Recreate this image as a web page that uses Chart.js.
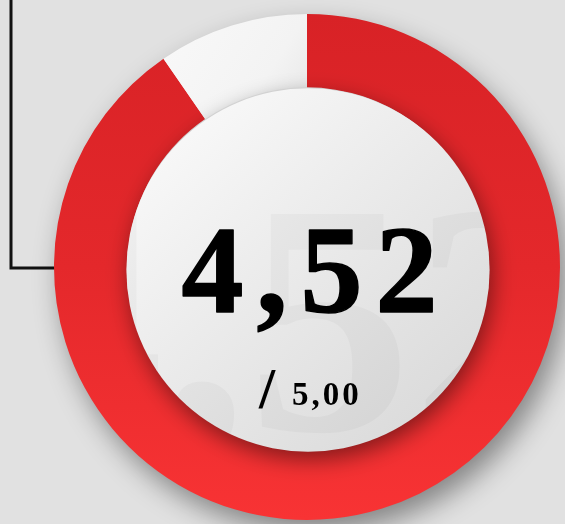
<!DOCTYPE html>
<html><head><meta charset="utf-8">
<script src="https://cdn.jsdelivr.net/npm/chart.js@4"></script>
<style>html,body{margin:0;padding:0;background:#e1e1e1;overflow:hidden}#wrap{width:565px;height:524px;position:relative}</style>
</head><body><div id="wrap"><canvas id="c" width="565" height="524"></canvas></div>
<script>
// ---- data ----
const categories = ['Note', 'Reste'];
const scoreValues = [4.52, 0.48];
const maxScore = [5.00];
const scoreLabel = ['4,52'];
const maxLabel = ['5,00'];

const SERIF = '"Liberation Serif", "DejaVu Serif", serif';

function redFill(chart) {
  const a = chart.chartArea;
  if (!a) return '#e52a2c';
  const g = chart.ctx.createLinearGradient(0, a.top, 0, a.bottom);
  g.addColorStop(0, '#d82226');
  g.addColorStop(0.5, '#e4282b');
  g.addColorStop(1, '#f83334');
  return g;
}
function whiteFill(chart) {
  const a = chart.chartArea;
  if (!a) return '#f4f4f4';
  const g = chart.ctx.createLinearGradient(a.left + 60, a.top, a.left + a.width / 2, a.top + a.height / 4);
  g.addColorStop(0, '#fbfbfb');
  g.addColorStop(0.7, '#f3f3f3');
  g.addColorStop(1, '#e4e4e4');
  return g;
}
function sliceFill(ctx) {
  return ctx.dataIndex === 0 ? redFill(ctx.chart) : whiteFill(ctx.chart);
}

const decor = {
  id: 'decor',
  beforeDraw(chart) {
    const c = chart.ctx;
    c.save();
    c.fillStyle = '#e1e1e1';
    c.fillRect(0, 0, chart.width, chart.height);
    c.strokeStyle = '#111';
    c.lineWidth = 3;
    c.beginPath();
    c.moveTo(11, 0); c.lineTo(11, 268); c.lineTo(70, 268);
    c.stroke();
    c.restore();
  },
  beforeDatasetsDraw(chart) {
    const arc = chart.getDatasetMeta(0).data[0];
    if (!arc) return;
    const c = chart.ctx;
    c.save();
    c.shadowColor = 'rgba(0,0,0,0.42)';
    c.shadowBlur = 28;
    c.shadowOffsetX = 7;
    c.shadowOffsetY = 13;
    c.fillStyle = '#e6e6e6';
    c.beginPath();
    c.arc(arc.x, arc.y, arc.outerRadius - 1, 0, Math.PI * 2);
    c.fill();
    c.restore();
  },
  afterDatasetsDraw(chart) {
    const arc = chart.getDatasetMeta(0).data[0];
    if (!arc) return;
    const c = chart.ctx;
    const cx = arc.x + 1, cy = arc.y + 3, r = arc.innerRadius + 2;
    c.save();
    c.shadowColor = 'rgba(0,0,0,0.45)';
    c.shadowBlur = 22;
    c.shadowOffsetX = 3;
    c.shadowOffsetY = 8;
    const g = c.createLinearGradient(cx - r, cy - r, cx + r * 0.8, cy + r);
    g.addColorStop(0, '#fdfdfd');
    g.addColorStop(0.45, '#ececec');
    g.addColorStop(1, '#d8d8d8');
    c.fillStyle = g;
    c.beginPath(); c.arc(cx, cy, r, 0, Math.PI * 2); c.fill();
    c.restore();
    // watermark
    c.save();
    c.beginPath(); c.arc(cx, cy, r, 0, Math.PI * 2); c.clip();
    c.fillStyle = 'rgba(0,0,0,0.028)';
    c.font = 'bold 330px ' + SERIF;
    c.textAlign = 'center';
    c.textBaseline = 'alphabetic';
    c.fillText(scoreLabel[0], cx - 20, cy + 160);
    c.restore();
    // main value
    c.save();
    c.fillStyle = '#000';
    c.strokeStyle = '#000';
    c.lineWidth = 1.5;
    c.lineJoin = 'round';
    c.textAlign = 'center';
    c.textBaseline = 'alphabetic';
    c.font = 'bold 124px ' + SERIF;
    c.letterSpacing = '13px';
    c.fillText(scoreLabel[0], cx + 8, 312);
    c.strokeText(scoreLabel[0], cx + 8, 312);
    c.letterSpacing = '0px';
    c.textAlign = 'left';
    c.font = 'bold 58px ' + SERIF;
    c.fillText('/', 259, 408);
    c.font = 'bold 33px ' + SERIF;
    c.letterSpacing = '3px';
    c.fillText(maxLabel[0], 292, 405);
    c.restore();
  }
};

new Chart(document.getElementById('c'), {
  type: 'doughnut',
  data: {
    labels: categories,
    datasets: [{
      data: scoreValues,
      backgroundColor: sliceFill,
      borderWidth: 0,
      hoverOffset: 0
    }]
  },
  options: {
    responsive: false,
    animation: false,
    devicePixelRatio: 1,
    cutout: '71%',
    rotation: 0,
    circumference: 360,
    layout: { padding: { left: 54, top: 14, right: 5, bottom: 4 } },
    plugins: { legend: { display: false }, tooltip: { enabled: false } },
    events: []
  },
  plugins: [decor]
});
</script></body></html>
